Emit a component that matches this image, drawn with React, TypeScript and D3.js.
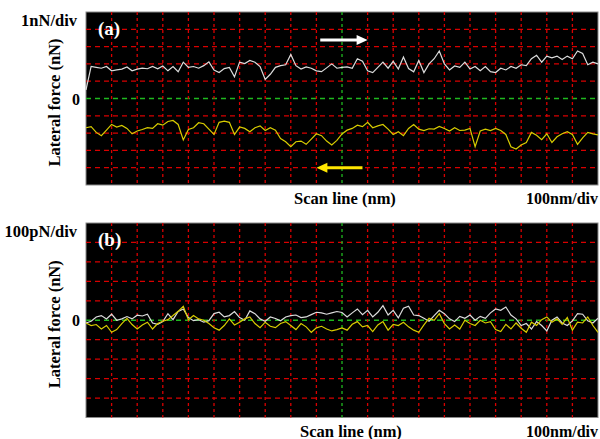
import React, { useEffect, useRef } from 'react';
import * as d3 from 'd3';

// scan sampled every 20 nm over 20 divisions of 100 nm
const SCAN_STEP_NM = 20;
const SCAN_LENGTH_NM = 2000;

// (a) lateral force, nN (1 nN/div)
const forwardA = [
  0.5, 1.85, 1.8, 1.75, 1.85, 1.6, 1.65, 1.7, 1.82, 1.6,
  1.7, 1.75, 1.72, 1.85, 1.72, 1.88, 1.6, 1.85, 1.55, 2.1,
  1.8, 1.85, 1.75, 1.9, 2.12, 1.65, 1.5, 1.73, 1.8, 1.25,
  2.1, 2.02, 2.2, 2.1, 1.85, 1.1, 1.4, 1.8, 1.9, 1.95,
  2.55, 1.9, 1.7, 1.83, 1.75, 1.6, 1.55, 1.77, 2.0, 1.75,
  1.8, 1.83, 1.75, 2.3, 2.15, 1.6, 1.5, 1.8, 2.1, 1.75,
  2.15, 1.7, 2.4, 1.73, 1.54, 2.2, 1.5, 2.0, 2.3, 2.75,
  2.0, 1.65, 1.88, 1.8, 2.1, 1.7, 1.85, 1.6, 1.85, 1.55,
  1.5, 1.75, 1.65, 1.85, 1.75, 1.95, 1.9, 2.3, 2.5, 2.1,
  2.45, 2.35, 2.45, 2.25, 2.45, 2.3, 2.75, 2.6, 1.95, 2.1,
  2.0,
];
const backwardA = [
  -1.69, -1.63, -1.96, -2.15, -1.83, -1.5, -1.65, -1.56, -1.73, -2.04,
  -1.88, -1.79, -1.69, -1.73, -1.46, -1.54, -1.33, -1.27, -1.5, -2.4,
  -1.79, -1.69, -1.4, -1.46, -1.77, -2.08, -1.38, -1.31, -1.38, -2.08,
  -1.65, -1.73, -1.92, -1.69, -1.58, -1.85, -1.69, -1.83, -2.31, -2.5,
  -2.79, -2.5, -2.46, -2.65, -2.35, -2.04, -2.15, -2.46, -2.69, -2.42,
  -2.05, -1.83, -1.73, -1.54, -1.63, -1.38, -1.69, -1.58, -1.5, -1.77,
  -2.08, -1.92, -2.15, -1.73, -1.5, -1.77, -1.85, -1.75, -1.77, -1.62,
  -1.73, -1.88, -1.69, -1.85, -1.83, -1.73, -2.79, -1.88, -1.77, -1.85,
  -1.73, -1.85, -2.08, -2.79, -2.92, -2.69, -2.54, -1.96, -2.12, -2.38,
  -2.04, -2.54, -2.21, -2.04, -1.92, -2.08, -2.65, -2.27, -1.96, -2.04,
  -2.1,
];

// (b) lateral force, pN (100 pN/div)
const forwardB = [
  -14, -5, 17, 24, 7, 31, 0, 7, 19, 7,
  26, 22, 31, -14, -21, -7, 34, 3, 45, 58,
  14, -2, 3, -10, -2, 34, 41, 17, 24, 45,
  14, 0, 48, 34, 7, -5, 17, 9, -3, 17,
  24, 27, 14, 17, 29, 41, 38, 31, 38, 45,
  40, 17, 38, 58, 29, 51, 17, 41, 75, 27,
  51, 12, 62, 72, 27, 24, 10, -5, 24, 51,
  34, 7, -7, 20, 10, 27, 0, 20, 10, 38,
  58, 51, 68, 27, 7, -27, -17, -45, -7, -27,
  -55, 0, 17, -14, -27, -3, 34, 31, -3, -14,
  10,
];
const backwardB = [
  -14, -27, -22, -45, -27, -62, -48, -17, 10, -22,
  -45, -24, -10, -45, -17, -5, 3, 24, 46, 72,
  3, 24, 7, 0, -17, -39, -51, -27, 7, -24,
  -10, 7, 17, -17, -38, -10, -31, -38, -17, -7,
  -27, -48, -17, -34, -62, -39, -31, -45, -55, -48,
  -39, -51, -21, -7, -34, -27, -58, -24, -7, -51,
  -21, -27, -10, -34, -51, -62, -24, 10, 0, 34,
  -17, -45, -24, -45, 0, -17, -27, 0, -14, -7,
  -48, -58, -21, -45, -14, -41, -62, -10, -27, 3,
  17, -10, 7, -21, 14, -51, -10, -14, 17, -27,
  -62,
];

const WIDTH = 600;
const HEIGHT = 439;
const FONT = '"Liberation Serif", "Times New Roman", serif';

const panels = [
  { tag: '(a)', scaleLabel: '1nN/div', top: 12, bottom: 185, span: 5, fwd: forwardA, bwd: backwardA, arrows: true, xLabelAt: 345 },
  { tag: '(b)', scaleLabel: '100pN/div', top: 223, bottom: 417.5, span: 500, fwd: forwardB, bwd: backwardB, arrows: false, xLabelAt: 351 },
];

const App = () => {
  const svgRef = useRef<SVGSVGElement>(null);

  useEffect(() => {
    const svg = d3.select(svgRef.current);
    svg.selectAll('*').remove();

    const x = d3.scaleLinear().domain([0, SCAN_LENGTH_NM]).range([86, 598]);
    const xDivs = d3.range(1, 20);

    panels.forEach((p) => {
      const y = d3.scaleLinear().domain([-p.span, p.span]).range([p.bottom, p.top]);
      const yDivs = d3.range(-4, 5).map(k => k * p.span / 5);
      const g = svg.append('g');

      g.append('rect')
        .attr('x', x(0)).attr('y', p.top)
        .attr('width', x(SCAN_LENGTH_NM) - x(0)).attr('height', p.bottom - p.top)
        .attr('fill', '#000').attr('stroke', '#8a8a8a').attr('stroke-width', 1);

      // grid
      g.selectAll('.hgrid').data(yDivs).enter().append('line')
        .attr('x1', x(0)).attr('x2', x(SCAN_LENGTH_NM))
        .attr('y1', d => y(d)).attr('y2', d => y(d))
        .attr('stroke', d => d === 0 ? '#1fb81f' : '#d80000')
        .attr('stroke-width', 1.3)
        .attr('stroke-dasharray', '5,4');

      g.selectAll('.vgrid').data(xDivs).enter().append('line')
        .attr('y1', p.top).attr('y2', p.bottom)
        .attr('x1', d => x(d * 100)).attr('x2', d => x(d * 100))
        .attr('stroke', d => d === 10 ? '#1fb81f' : '#d80000')
        .attr('stroke-width', 1.3)
        .attr('stroke-dasharray', '3,3');

      const line = d3.line<number>()
        .x((_, i) => x(i * SCAN_STEP_NM))
        .y(d => y(d));

      g.append('path').attr('d', line(p.fwd))
        .attr('fill', 'none').attr('stroke', '#dcdcdc').attr('stroke-width', 1.2);
      g.append('path').attr('d', line(p.bwd))
        .attr('fill', 'none').attr('stroke', '#d8cc00').attr('stroke-width', 1.2);

      // labels
      g.append('text').text(p.tag)
        .attr('x', 98).attr('y', p.top + 23)
        .attr('font-family', FONT).attr('font-weight', 'bold').attr('font-size', 19)
        .attr('fill', '#fff');

      g.append('text').text(p.scaleLabel)
        .attr('x', 77).attr('y', p.top + 14)
        .attr('text-anchor', 'end')
        .attr('font-family', FONT).attr('font-weight', 'bold').attr('font-size', 16.5);

      g.append('text').text('0')
        .attr('x', 80).attr('y', y(0) + 6)
        .attr('text-anchor', 'end')
        .attr('font-family', FONT).attr('font-weight', 'bold').attr('font-size', 16);

      g.append('text').text('Lateral force (nN)')
        .attr('transform', `translate(60,${(p.top + p.bottom) / 2 + 4}) rotate(-90)`)
        .attr('text-anchor', 'middle')
        .attr('font-family', FONT).attr('font-weight', 'bold').attr('font-size', 16.5);

      g.append('text').text('Scan line (nm)')
        .attr('x', p.xLabelAt).attr('y', p.bottom + 19)
        .attr('text-anchor', 'middle')
        .attr('font-family', FONT).attr('font-weight', 'bold').attr('font-size', 16.5);

      g.append('text').text('100nm/div')
        .attr('x', 598).attr('y', p.bottom + 19)
        .attr('text-anchor', 'end')
        .attr('font-family', FONT).attr('font-weight', 'bold').attr('font-size', 16);

      if (p.arrows) {
        // scan direction arrows
        const arrow = (x1: number, x2: number, yv: number, color: string) => {
          const dir = Math.sign(x2 - x1);
          g.append('line')
            .attr('x1', x1).attr('x2', x2 - dir * 8)
            .attr('y1', yv).attr('y2', yv)
            .attr('stroke', color).attr('stroke-width', 3);
          g.append('path')
            .attr('d', `M${x2},${yv} L${x2 - dir * 11},${yv - 5} L${x2 - dir * 11},${yv + 5} Z`)
            .attr('fill', color);
        };
        arrow(x(915), x(1100), y(3.38), '#ffffff');
        arrow(x(1080), x(900), y(-4.0), '#ffe600');
      }
    });
  }, []);

  return (
    <svg ref={svgRef} width={WIDTH} height={HEIGHT}
      style={{ position: 'absolute', left: 0, top: 0, background: '#fff' }} />
  );
};

export default App;
